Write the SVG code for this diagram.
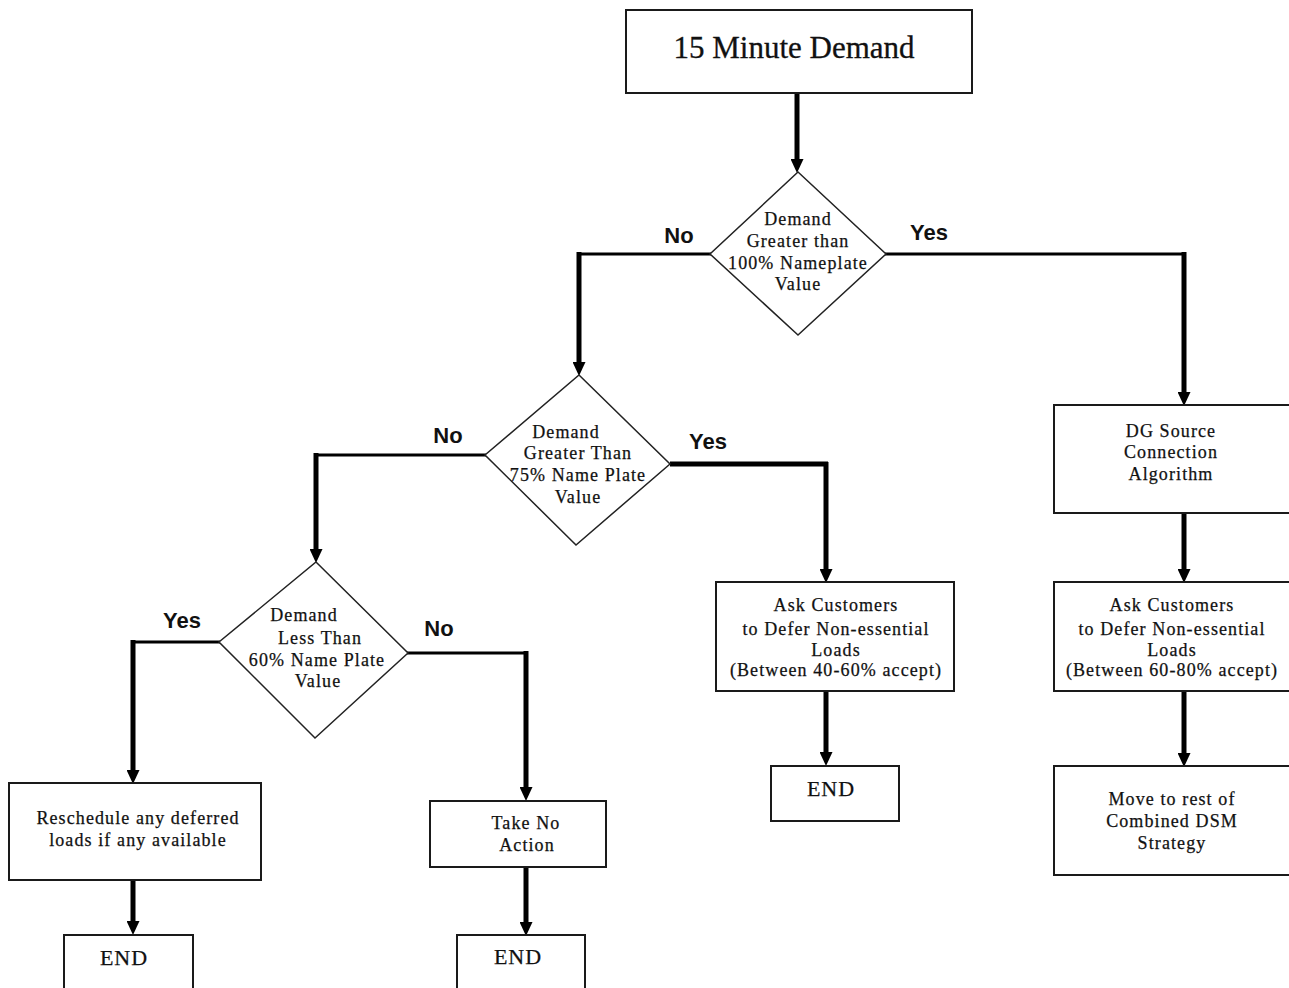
<svg xmlns="http://www.w3.org/2000/svg" width="1289" height="988" viewBox="0 0 1289 988">
  <style>
    .box { fill: #ffffff; stroke: #1a1a1a; stroke-width: 2; }
    .dia { fill: #ffffff; stroke: #222222; stroke-width: 1.5; stroke-linejoin: miter; }
    .t { font-family: "Liberation Serif", "Times New Roman", serif; font-size: 18px; letter-spacing: 1.1px; fill: #111111; stroke: #111111; stroke-width: 0.25; text-anchor: middle; }
    .title { font-family: "Liberation Serif", "Times New Roman", serif; font-size: 31px; fill: #111111; stroke: #111111; stroke-width: 0.3; text-anchor: middle; }
    .end { font-family: "Liberation Serif", "Times New Roman", serif; font-size: 22px; letter-spacing: 1px; fill: #111111; stroke: #111111; stroke-width: 0.25; text-anchor: middle; }
    .lbl { font-family: "Liberation Sans", Arial, sans-serif; font-size: 22px; font-weight: bold; fill: #111111; text-anchor: middle; }
    .h { fill: none; stroke: #000000; stroke-width: 3; stroke-linecap: square; }
    .v { fill: none; stroke: #000000; stroke-width: 5; }
    .arr { marker-end: url(#head); }
  </style>
  <defs>
    <marker id="head" viewBox="0 0 14 13" refX="0" refY="6.5" markerWidth="14" markerHeight="13" markerUnits="userSpaceOnUse" orient="auto">
      <path d="M0,0 L14,6.5 L0,13 Z" fill="#000000"/>
    </marker>
  </defs>
  <rect width="1289" height="988" fill="#ffffff"/>

  <!-- connectors -->
  <g id="connectors">
    <!-- start to first decision -->
    <line class="v arr" x1="797" y1="93" x2="797" y2="159"/>
    <!-- decision 1: No -->
    <line class="h" x1="710" y1="254" x2="579" y2="254"/>
    <line class="v arr" x1="579" y1="252" x2="579" y2="362"/>
    <!-- decision 1: Yes -->
    <line class="h" x1="886" y1="254" x2="1184" y2="254"/>
    <line class="v arr" x1="1184" y1="252" x2="1184" y2="392"/>
    <!-- decision 2: No -->
    <line class="h" x1="485" y1="455" x2="316" y2="455"/>
    <line class="v arr" x1="316" y1="453" x2="316" y2="549"/>
    <!-- decision 2: Yes -->
    <line class="v" x1="670" y1="464" x2="828" y2="464"/>
    <line class="v arr" x1="826" y1="462" x2="826" y2="569"/>
    <!-- decision 3: Yes -->
    <line class="h" x1="219" y1="642" x2="133" y2="642"/>
    <line class="v arr" x1="133" y1="640" x2="133" y2="770"/>
    <!-- decision 3: No -->
    <line class="h" x1="408" y1="653" x2="526" y2="653"/>
    <line class="v arr" x1="526" y1="651" x2="526" y2="787"/>
    <!-- process to END / next step -->
    <line class="v arr" x1="826" y1="691" x2="826" y2="752"/>
    <line class="v arr" x1="1184" y1="513" x2="1184" y2="569"/>
    <line class="v arr" x1="1184" y1="691" x2="1184" y2="753"/>
    <line class="v arr" x1="133" y1="880" x2="133" y2="921"/>
    <line class="v arr" x1="526" y1="867" x2="526" y2="922"/>
  </g>

  <!-- branch labels -->
  <g id="labels">
    <text class="lbl" x="679" y="243">No</text>
    <text class="lbl" x="929" y="240">Yes</text>
    <text class="lbl" x="448" y="443">No</text>
    <text class="lbl" x="708" y="449">Yes</text>
    <text class="lbl" x="182" y="628">Yes</text>
    <text class="lbl" x="439" y="636">No</text>
  </g>

  <g id="start">
    <rect class="box" x="626" y="10" width="346" height="83"/>
    <text class="title" x="794" y="58">15 Minute Demand</text>
  </g>

  <g id="decision-100">
    <polygon class="dia" points="798,172 886,254 798,335 710,254"/>
    <text class="t" x="798" y="225">Demand</text>
    <text class="t" x="798" y="247">Greater than</text>
    <text class="t" x="798" y="269">100% Nameplate</text>
    <text class="t" x="798" y="290">Value</text>
  </g>

  <g id="decision-75">
    <polygon class="dia" points="579,375 670,464 576,545 485,455"/>
    <text class="t" x="566" y="438">Demand</text>
    <text class="t" x="578" y="459">Greater Than</text>
    <text class="t" x="578" y="481">75% Name Plate</text>
    <text class="t" x="578" y="503">Value</text>
  </g>

  <g id="decision-60">
    <polygon class="dia" points="316,562 408,653 315,738 219,642"/>
    <text class="t" x="304" y="621">Demand</text>
    <text class="t" x="320" y="644">Less Than</text>
    <text class="t" x="317" y="666">60% Name Plate</text>
    <text class="t" x="318" y="687">Value</text>
  </g>

  <g id="dg-source">
    <rect class="box" x="1054" y="405" width="236" height="108"/>
    <text class="t" x="1171" y="437">DG Source</text>
    <text class="t" x="1171" y="458">Connection</text>
    <text class="t" x="1171" y="480">Algorithm</text>
  </g>

  <g id="defer-60-80">
    <rect class="box" x="1054" y="582" width="236" height="109"/>
    <text class="t" x="1172" y="611">Ask Customers</text>
    <text class="t" x="1172" y="635">to Defer Non-essential</text>
    <text class="t" x="1172" y="656">Loads</text>
    <text class="t" x="1172" y="676">(Between 60-80% accept)</text>
  </g>

  <g id="move-dsm">
    <rect class="box" x="1054" y="766" width="236" height="109"/>
    <text class="t" x="1172" y="805">Move to rest of</text>
    <text class="t" x="1172" y="827">Combined DSM</text>
    <text class="t" x="1172" y="849">Strategy</text>
  </g>

  <g id="defer-40-60">
    <rect class="box" x="716" y="582" width="238" height="109"/>
    <text class="t" x="836" y="611">Ask Customers</text>
    <text class="t" x="836" y="635">to Defer Non-essential</text>
    <text class="t" x="836" y="656">Loads</text>
    <text class="t" x="836" y="676">(Between 40-60% accept)</text>
  </g>

  <g id="end-middle">
    <rect class="box" x="771" y="766" width="128" height="55"/>
    <text class="end" x="831" y="796">END</text>
  </g>

  <g id="reschedule">
    <rect class="box" x="9" y="783" width="252" height="97"/>
    <text class="t" x="138" y="824">Reschedule any deferred</text>
    <text class="t" x="138" y="846">loads if any available</text>
  </g>

  <g id="end-left">
    <rect class="box" x="64" y="935" width="129" height="60"/>
    <text class="end" x="124" y="965">END</text>
  </g>

  <g id="no-action">
    <rect class="box" x="430" y="801" width="176" height="66"/>
    <text class="t" x="526" y="829">Take No</text>
    <text class="t" x="527" y="851">Action</text>
  </g>

  <g id="end-bottom">
    <rect class="box" x="457" y="935" width="128" height="60"/>
    <text class="end" x="518" y="964">END</text>
  </g>
</svg>
